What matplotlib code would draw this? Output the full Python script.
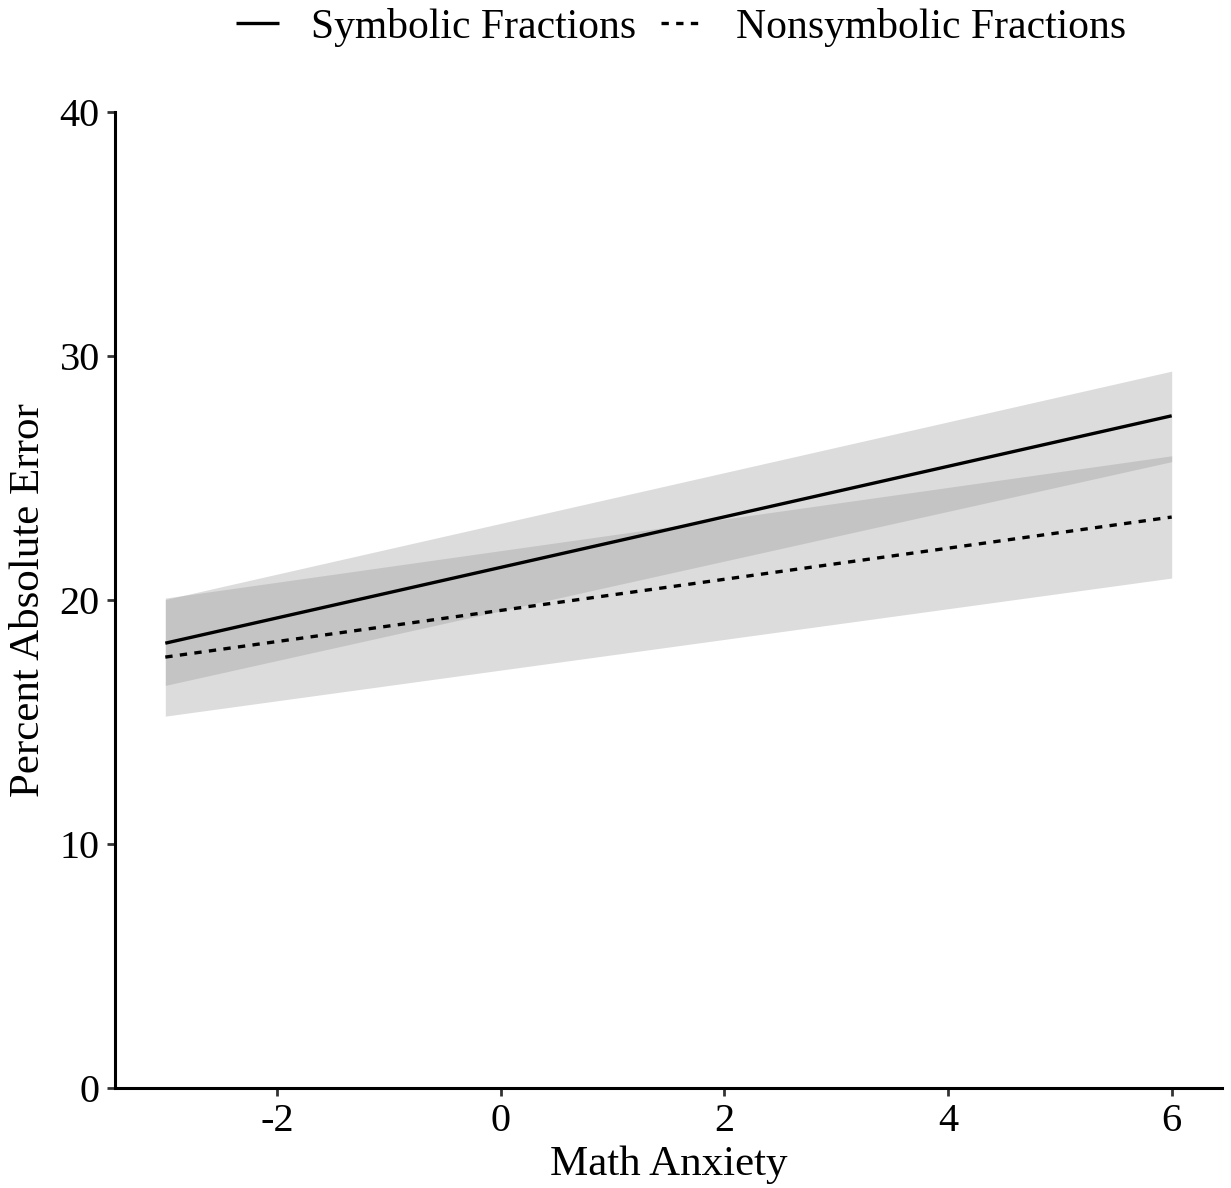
import matplotlib
matplotlib.use('Agg')
import matplotlib.pyplot as plt

plt.rcParams['font.family'] = ['Liberation Serif', 'DejaVu Serif']

# model predictions at the ends of the observed math anxiety range
anxiety = [-3, 6]
sym_fit = [18.23, 27.55]
sym_lo = [16.50, 25.67]
sym_hi = [20.02, 29.38]
non_fit = [17.66, 23.40]
non_lo = [15.24, 20.90]
non_hi = [20.08, 25.91]

x_ticks = [-2, 0, 2, 4, 6]
y_ticks = [0, 10, 20, 30, 40]


def plot():
    fig = plt.figure(figsize=(12.31, 11.88), dpi=100)
    ax = fig.add_axes([0.0934, 0.0842, 0.8993, 0.8215])

    ax.fill_between(anxiety, sym_lo, sym_hi, color='#909090', alpha=0.31, lw=0)
    ax.fill_between(anxiety, non_lo, non_hi, color='#909090', alpha=0.31, lw=0)
    l1, = ax.plot(anxiety, sym_fit, color='black', lw=2.4, solid_capstyle='butt')
    l2, = ax.plot(anxiety, non_fit, color='black', lw=2.4, dashes=(2.2, 2.2))

    ax.set_xlim(-3.45, 6.45)
    ax.set_ylim(0, 40)
    ax.set_xticks(x_ticks)
    ax.set_yticks(y_ticks)
    ax.set_xticklabels(['%d' % t for t in x_ticks])
    for s in ['top', 'right']:
        ax.spines[s].set_visible(False)
    for s in ['left', 'bottom']:
        ax.spines[s].set_linewidth(2.2)
    ax.tick_params(labelsize=29, width=2, length=6, color='#333333', pad=5)

    ax.set_xlabel('Math Anxiety', fontsize=31, labelpad=4)
    ax.set_ylabel('Percent Absolute Error', fontsize=31, labelpad=8)

    fig.legend([l1, l2], ['Symbolic Fractions', 'Nonsymbolic Fractions'],
               loc='center', bbox_to_anchor=(0.553, 0.977), ncol=2, frameon=False,
               fontsize=30, handlelength=1.05, columnspacing=0.6, handletextpad=0.75)

    plt.savefig('out.png', dpi=100)
    plt.close()


if __name__ == '__main__':
    plot()
